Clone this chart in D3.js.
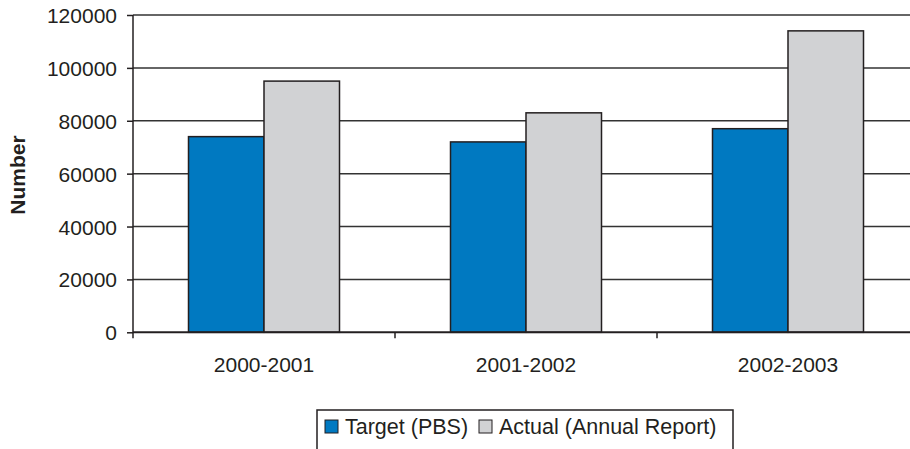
<!DOCTYPE html>
<html>
<head>
<meta charset="utf-8">
<script src="https://cdn.jsdelivr.net/npm/d3@7"></script>
<style>
  body { margin: 0; background: #fff; }
  text { font-family: "Liberation Sans", Arial, sans-serif; fill: #231f20; }
</style>
</head>
<body>
<div id="chart"></div>
<script>
'use strict';

// data
var categories = ['2000-2001', '2001-2002', '2002-2003'];
var seriesNames = ['Target (PBS)', 'Actual (Annual Report)'];
var targetValues = [74000, 72000, 77000];
var actualValues = [95000, 83000, 114000];
var yTicks = [0, 20000, 40000, 60000, 80000, 100000, 120000];

var colors = ['#0079c1', '#d1d2d4'];

var W = 910, H = 449;
var margin = {top: 15, left: 133};
var cw = 786, ch = 317.3;

var svg = d3.select('#chart').append('svg')
    .attr('width', W)
    .attr('height', H);

var g = svg.append('g')
    .attr('transform', 'translate(' + margin.left + ',' + margin.top + ')');

var xScale = d3.scaleBand().domain(categories).range([0, cw]).paddingInner(0).paddingOuter(0);
var xSub = d3.scaleBand().domain(seriesNames).range([0, 151]);
var yScale = d3.scaleLinear().domain([0, 120000]).range([ch, 0]);

// gridlines
g.selectAll('line.grid')
    .data(yTicks.slice(1))
    .enter()
    .append('line')
    .attr('class', 'grid')
    .attr('x1', 0)
    .attr('x2', cw)
    .attr('y1', function(d){ return yScale(d); })
    .attr('y2', function(d){ return yScale(d); })
    .style('stroke', '#333')
    .style('stroke-width', 1.5);

// bars
var rows = categories.map(function(c, i){
    return {cat: c, vals: [targetValues[i], actualValues[i]]};
});

var groups = g.selectAll('g.cat')
    .data(rows)
    .enter()
    .append('g')
    .attr('class', 'cat')
    .attr('transform', function(d){ return 'translate(' + (xScale(d.cat) + (xScale.bandwidth() - 151) / 2) + ',0)'; });

groups.selectAll('rect')
    .data(function(d){ return d.vals.map(function(v, j){ return {name: seriesNames[j], v: v, j: j}; }); })
    .enter()
    .append('rect')
    .attr('x', function(d){ return xSub(d.name); })
    .attr('y', function(d){ return yScale(d.v); })
    .attr('width', xSub.bandwidth())
    .attr('height', function(d){ return ch - yScale(d.v); })
    .style('fill', function(d){ return colors[d.j]; })
    .style('stroke', '#231f20')
    .style('stroke-width', 1.5);

// axes
var yAxis = d3.axisLeft(yScale).tickValues(yTicks).tickFormat(d3.format('d')).tickSize(6).tickPadding(10);
var yg = g.append('g').call(yAxis);
yg.select('.domain').remove();
yg.selectAll('line').style('stroke', '#231f20').style('stroke-width', 1.5);
yg.selectAll('text').style('font-size', '21px').attr('dy', '0.36em');

g.append('line')
    .attr('x1', 0).attr('x2', 0)
    .attr('y1', 0).attr('y2', ch)
    .style('stroke', '#231f20').style('stroke-width', 1.5);

var xAxis = d3.axisBottom(xScale).tickSize(0).tickPadding(25);
var xg = g.append('g').attr('transform', 'translate(0,' + ch + ')').call(xAxis);
xg.select('.domain').remove();
xg.selectAll('text').style('font-size', '21px');

// category separator ticks
g.append('g').selectAll('line')
    .data(categories)
    .enter()
    .append('line')
    .attr('x1', function(d){ return xScale(d); })
    .attr('x2', function(d){ return xScale(d); })
    .attr('y1', ch)
    .attr('y2', ch + 6)
    .style('stroke', '#231f20').style('stroke-width', 1.5);

g.append('line')
    .attr('x1', 0).attr('x2', cw)
    .attr('y1', ch).attr('y2', ch)
    .style('stroke', '#231f20').style('stroke-width', 2);

// y label
svg.append('text')
    .attr('transform', 'translate(25,175) rotate(-90)')
    .style('text-anchor', 'middle')
    .style('font-size', '21px')
    .style('font-weight', 'bold')
    .text('Number');

// legend
var lg = svg.append('g').attr('transform', 'translate(317,410)');
lg.append('rect')
    .attr('width', 416).attr('height', 60)
    .style('fill', 'none').style('stroke', '#231f20').style('stroke-width', 1.5);

var legX = [8, 162];
seriesNames.forEach(function(name, j){
    var it = lg.append('g').attr('transform', 'translate(' + legX[j] + ',0)');
    it.append('rect')
        .attr('x', 0).attr('y', 10)
        .attr('width', 13).attr('height', 13)
        .style('fill', colors[j]).style('stroke', '#231f20').style('stroke-width', 1);
    it.append('text')
        .attr('x', 20).attr('y', 24)
        .style('font-size', '21.5px')
        .text(name);
});
</script>
</body>
</html>
